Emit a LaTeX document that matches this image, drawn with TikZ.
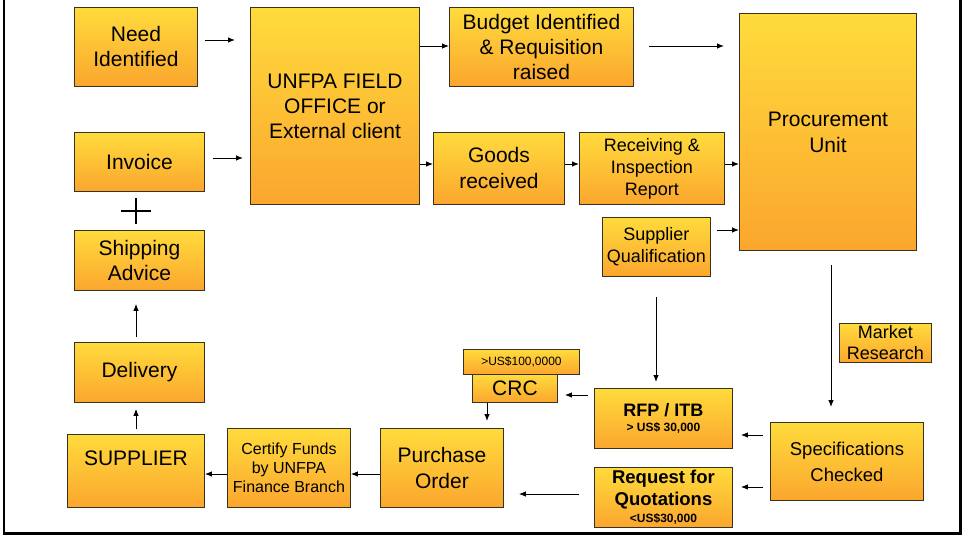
\documentclass[tikz,border=0pt]{standalone}
\usepackage{fontspec}
\setmainfont{Liberation Sans}
\usetikzlibrary{arrows.meta}
\definecolor{boxtop}{HTML}{FFDB3C}
\definecolor{boxbot}{HTML}{FBA62E}
\definecolor{boxline}{HTML}{3A3220}
\tikzset{
  box/.style={rectangle, draw=boxline, line width=0.9pt, top color=boxtop, bottom color=boxbot,
    inner sep=0pt, anchor=north west, align=center, font=\fontsize{21}{25}\selectfont},
  mid/.style={font=\fontsize{18}{22}\selectfont},
  arr/.style={draw=black, line width=0.9pt, -{Latex[length=7pt,width=5.5pt]}},
}
\begin{document}
\begin{tikzpicture}[x=1pt,y=-1pt]
\useasboundingbox (0,0) rectangle (965,535);
% frame
\draw[line width=2.5pt] (4,0) -- (4,533.5) -- (960.5,533.5) -- (960.5,0);

% top row
\node[box, minimum width=123pt, minimum height=79pt] (need) at (74,7) {Need\\Identified};
\node[box, minimum width=169pt, minimum height=197pt] (unfpa) at (250,7) {UNFPA FIELD\\OFFICE or\\External client};
\node[box, minimum width=184pt, minimum height=79pt] (budget) at (449,7) {Budget Identified\\\& Requisition\\raised};
\node[box, minimum width=177pt, minimum height=237pt, font=\fontsize{21}{26}\selectfont] (proc) at (739,13) {Procurement\\Unit};

% middle row
\node[box, minimum width=130pt, minimum height=59pt] (invoice) at (74,132) {Invoice};
\node[box, minimum width=131pt, minimum height=72pt, font=\fontsize{21}{26}\selectfont] (goods) at (433,132) {Goods\\received};
\node[box, mid, minimum width=145pt, minimum height=72pt] (recv) at (579,132) {Receiving \&\\Inspection\\Report};
\node[box, mid, minimum width=108pt, minimum height=59pt] (suppq) at (602,217) {Supplier\\Qualification};
\node[box, minimum width=130pt, minimum height=60pt] (ship) at (74,230) {Shipping\\Advice};

% plus sign
\draw[line width=1.5pt] (121,211) -- (151,211);
\draw[line width=1.5pt] (136,198) -- (136,223.5);

% lower area
\node[box, minimum width=92pt, minimum height=39pt, font=\fontsize{18}{21}\selectfont] (market) at (839,323) {Market\\Research};
\node[box, minimum width=130pt, minimum height=60pt] (delivery) at (74,342) {Delivery};
\node[box, minimum width=116pt, minimum height=25pt, font=\fontsize{12}{14}\selectfont] (crclbl) at (463,349) {>US\$100,0000};
\node[box, minimum width=85pt, minimum height=28pt] (crc) at (472,374) {CRC};
\node[box, minimum width=138pt, minimum height=60pt, font=\bfseries\fontsize{18}{20}\selectfont] (rfp) at (594,388)
  {RFP / ITB\\[-5pt]\fontsize{12}{14}\selectfont > US\$ 30,000};
\node[box, minimum width=153pt, minimum height=78pt, font=\fontsize{18.5}{26}\selectfont] (spec) at (770,422) {Specifications\\Checked};
\node[box, minimum width=123pt, minimum height=79pt, font=\fontsize{16}{19}\selectfont] (certify) at (227,428) {Certify Funds\\by UNFPA\\Finance Branch};
\node[box, minimum width=123pt, minimum height=79pt, font=\fontsize{21}{26}\selectfont] (po) at (380,428) {Purchase\\Order};
\node[box, minimum width=137pt, minimum height=73pt, text height=31.5pt, text depth=41.5pt] (supplier) at (67,434) {SUPPLIER};
\node[box, minimum width=138pt, minimum height=60pt, font=\bfseries\fontsize{18.5}{22}\selectfont] (rfq) at (594,467)
  {Request for\\Quotations\\[-5pt]\fontsize{12}{14}\selectfont <US\$30,000};

% connectors
\draw[arr, shorten <=7pt, shorten >=15pt] (need.east |- 0,40) -- (unfpa.west |- 0,40);
\draw[arr, shorten <=8pt, shorten >=7pt] (invoice.east |- 0,158) -- (unfpa.west |- 0,158);
\draw[arr] (unfpa.east |- 0,46) -- (budget.west |- 0,46);
\draw[arr] (unfpa.east |- 0,164) -- (goods.west |- 0,164);
\draw[arr, shorten <=15pt, shorten >=15pt] (budget.east |- 0,46) -- (proc.west |- 0,46);
\draw[arr] (goods.east |- 0,164) -- (recv.west |- 0,164);
\draw[arr] (recv.east |- 0,164) -- (proc.west |- 0,164);
\draw[arr, shorten <=6pt] (suppq.east |- 0,230) -- (proc.west |- 0,230);
\draw[arr, shorten <=20pt, shorten >=6pt] (suppq.south -| 656,0) -- (rfp.north -| 656,0);
\draw[arr, shorten <=14pt, shorten >=15pt] (proc.south -| 831,0) -- (spec.north -| 831,0);
\draw[arr, shorten <=7pt, shorten >=8pt] (spec.west |- 0,435) -- (rfp.east |- 0,435);
\draw[arr, shorten <=7pt, shorten >=8pt] (spec.west |- 0,487) -- (rfq.east |- 0,487);
\draw[arr, shorten <=6pt, shorten >=7pt] (rfp.west |- 0,395) -- (crc.east |- 0,395);
\draw[arr, shorten >=7pt] (crc.south -| 487,0) -- (po.north -| 487,0);
\draw[arr, shorten <=15pt, shorten >=15pt] (rfq.west |- 0,494) -- (po.east |- 0,494);
\draw[arr] (po.west |- 0,474) -- (certify.east |- 0,474);
\draw[arr] (certify.west |- 0,474) -- (supplier.east |- 0,474);
\draw[arr, shorten <=5pt, shorten >=6pt] (supplier.north -| 136,0) -- (delivery.south -| 136,0);
\draw[arr, shorten <=5pt, shorten >=13pt] (delivery.north -| 136,0) -- (ship.south -| 136,0);
\end{tikzpicture}
\end{document}
